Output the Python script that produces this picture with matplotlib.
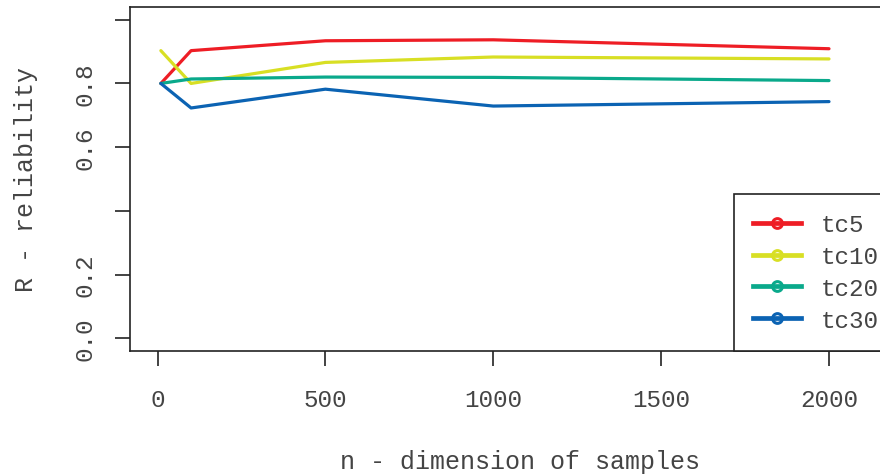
import matplotlib
matplotlib.use("Agg")
import matplotlib.pyplot as plt
from matplotlib.lines import Line2D

# data
n_samples = [10, 100, 500, 1000, 2000]
tc5 = [0.80, 0.903, 0.934, 0.937, 0.909]
tc10 = [0.903, 0.80, 0.866, 0.883, 0.877]
tc20 = [0.80, 0.814, 0.820, 0.819, 0.809]
tc30 = [0.80, 0.723, 0.782, 0.729, 0.743]
series_names = ["tc5", "tc10", "tc20", "tc30"]
colors = ["#ee1d25", "#d8df24", "#0aa98b", "#0b63b3"]
x_ticks = [0, 500, 1000, 1500, 2000]
y_ticks = [0.0, 0.2, 0.4, 0.6, 0.8, 1.0]
y_ticklabels = ["0.0", "0.2", "", "0.6", "0.8", ""]

plt.rcParams["font.family"] = ["Liberation Mono", "DejaVu Sans Mono"]
txt = "#444444"

W, H = 880, 477
fig = plt.figure(figsize=(W / 100, H / 100), dpi=100)
# plot box in pixels: left 130, top 8, bottom 352, right beyond the image
left, right, top, bottom = 130, 910, 8, 352
ax = fig.add_axes([left / W, (H - bottom) / H, (right - left) / W, (bottom - top) / H])

for ys, c, name in zip([tc5, tc10, tc20, tc30], colors, series_names):
    ax.plot(n_samples, ys, color=c, lw=2.3, label=name, solid_capstyle="round")

# x mapping: 0 -> 157.5 px, 2000 -> 829 px
ppu = (829 - 157.5) / 2000
ax.set_xlim((left - 157.5) / ppu, (right - 157.5) / ppu)
ax.set_ylim(-0.04, 1.04)

ax.set_xticks(x_ticks)
ax.set_xticklabels([str(v) for v in x_ticks])
ax.set_yticks(y_ticks)
ax.set_yticklabels(y_ticklabels, rotation=90, va="center")
ax.tick_params(axis="both", length=11, width=1.2, colors="#222222",
               labelcolor=txt, labelsize=17.5, pad=16)
ax.tick_params(axis="y", pad=13)
for s in ax.spines.values():
    s.set_linewidth(1.2)
    s.set_color("#222222")
ax.spines["right"].set_visible(False)

ax.set_xlabel("n - dimension of samples", fontsize=18, color=txt, labelpad=27)
ax.set_ylabel("R - reliability", fontsize=18, color=txt, labelpad=26)

handles = [Line2D([], [], color=c, lw=3.4, marker="o", markersize=7,
                  markerfacecolor="none", markeredgewidth=2.2) for c in colors]
leg = ax.legend(handles, series_names, loc="lower left",
                bbox_to_anchor=((734 - left) / (right - left), 0),
                borderaxespad=0, fontsize=17.5, handlelength=1.95,
                handletextpad=0.8, labelspacing=0.36, borderpad=0.8,
                fancybox=False, framealpha=1, edgecolor="#222222")
leg.get_frame().set_linewidth(1.2)
for t in leg.get_texts():
    t.set_color(txt)

fig.savefig("out.png", dpi=100)
